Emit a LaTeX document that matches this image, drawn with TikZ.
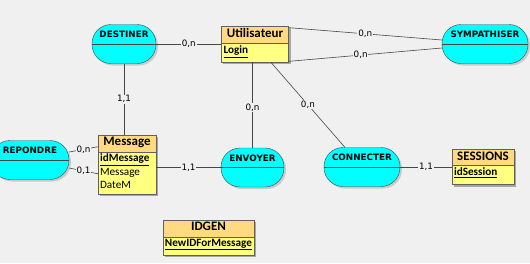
\documentclass[tikz,border=0pt]{standalone}
\usepackage{fontspec}
\setmainfont{Carlito}
\newfontfamily\relfont{DejaVu Sans}
\usetikzlibrary{shapes.multipart,shadows,backgrounds}

\definecolor{bggray}{RGB}{240,240,240}
\definecolor{relcyan}{RGB}{0,255,255}
\definecolor{enthead}{RGB}{255,218,128}
\definecolor{entbody}{RGB}{255,255,128}
\definecolor{edgegray}{RGB}{70,70,70}

% entity name and struts for the two parts of an entity box
\newcommand{\entname}[1]{\fontsize{13}{15}\selectfont\bfseries\rule[-4pt]{0pt}{11.5pt}#1}
\newcommand{\bodystrut}{\rule[-6.5pt]{0pt}{6.5pt}}

\begin{document}
\begin{tikzpicture}[x=1pt, y=-1pt,
  rel/.style={draw=edgegray, fill=relcyan, rectangle, rounded corners=19pt,
    minimum height=39pt, inner sep=0pt, text height=7pt, text depth=20pt,
    font=\relfont\bfseries\fontsize{8.8}{10}\selectfont,
    drop shadow={shadow xshift=2pt, shadow yshift=-2pt, fill=black!35}},
  ent/.style={draw=gray!75!black, rectangle split, rectangle split parts=2,
    rectangle split part fill={enthead,entbody},
    rectangle split part align={center,left},
    align=left, inner xsep=2pt, inner ysep=2pt,
    font=\fontsize{11.2}{13.5}\selectfont},
  entshadow/.style={fill=black!35},
  card/.style={fill=bggray, inner sep=0.8pt, font=\relfont\fontsize{8.8}{10}\selectfont},
  link/.style={draw=edgegray, line width=0.6pt}]

\useasboundingbox (0,0) rectangle (530,263);

% associations
\node[rel, minimum width=64pt] (destiner) at (124,44) {DESTINER};
\node[rel, minimum width=86pt] (sympathiser) at (485,44) {SYMPATHISER};
\node[rel, minimum width=78pt] (repondre) at (30,160) {REPONDRE};
\node[rel, minimum width=63pt] (envoyer) at (252.5,167.5) {ENVOYER};
\node[rel, minimum width=76pt] (connecter) at (362,167) {CONNECTER};
\foreach \r in {destiner,sympathiser,repondre,envoyer,connecter}
  \draw[edgegray] (\r.west) -- (\r.east);

% entities
\node[ent, minimum width=67pt] (utilisateur) at (255,44)
  {\entname{Utilisateur}\nodepart{second}\bfseries\underline{Login}\bodystrut};
\node[ent, minimum width=58pt] (message) at (127,164.5)
  {\entname{Message}\nodepart{second}\bfseries\underline{idMessage}\\Message\\DateM\rule[-3pt]{0pt}{3pt}};
\node[ent, minimum width=62pt] (sessions) at (483,167)
  {\fontsize{13}{15}\selectfont\bfseries\rule[-3pt]{0pt}{10.5pt}SESSIONS\nodepart{second}\bfseries\underline{idSession}\bodystrut};
\node[ent, minimum width=91pt] (idgen) at (208.5,237.5)
  {\entname{IDGEN}\nodepart{second}\bfseries\underline{NewIDForMessage}\bodystrut};

\begin{pgfonlayer}{background}
  \fill[bggray] (0,0) rectangle (530,263);
  \foreach \e in {utilisateur,message,sessions,idgen}
    \fill[entshadow] ([shift={(2pt,-2pt)}]\e.north west) rectangle ([shift={(2pt,-2pt)}]\e.south east);
\end{pgfonlayer}

% links
\draw[link] (destiner) -- node[card] {0,n} (utilisateur);
\draw[link] (destiner.south) -- node[card] {1,1} (destiner.south |- message.north);
\draw[link] ([yshift=-2pt]utilisateur.north east) -- node[card] {0,n} ([yshift=4pt]sympathiser.west);
\draw[link] ([yshift=1pt]utilisateur.south east) -- node[card, pos=0.47] {0,n} ([yshift=-4pt]sympathiser.west);
\draw[link] (envoyer.north |- utilisateur.south) -- node[card, pos=0.53] {0,n} (envoyer.north);
\draw[link] (utilisateur) -- node[card] {0,n} (connecter);
\draw[link] ([yshift=8pt]repondre.east) -- node[card] {0,n} ([yshift=-12pt]message.north west);
\draw[link] ([yshift=-8pt]repondre.east) -- node[card] {0,1} ([yshift=-39pt]message.north west);
\draw[link] (message.east |- envoyer) -- node[card] {1,1} (envoyer);
\draw[link] (connecter) -- node[card] {1,1} (sessions);
\end{tikzpicture}
\end{document}
